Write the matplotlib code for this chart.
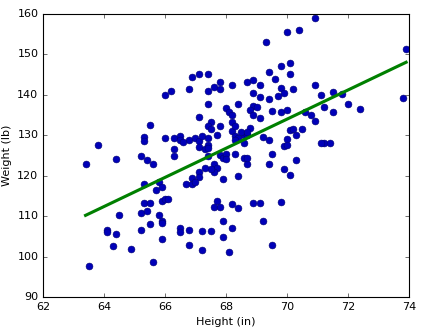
import numpy as np
import matplotlib
matplotlib.use("Agg")
import matplotlib.pyplot as plt

# =====================
# data
# =====================
height = [
    70.9, 70.0, 70.4, 69.3, 73.9, 69.8, 70.1, 69.4, 70.1, 69.6,
    66.9, 67.1, 67.4, 67.8, 66.0, 66.2, 66.8, 67.4, 67.6, 67.8,
    68.2, 68.7, 68.9, 69.1, 69.8, 69.9, 70.2, 70.9, 71.1, 71.5,
    71.8, 68.9, 69.1, 69.4, 69.7, 73.8, 72.0,
    67.4, 68.4, 68.0, 68.1, 68.2, 68.9, 69.0, 68.8, 68.9, 69.1,
    69.5, 69.8, 70.0, 70.6, 70.8, 70.9, 71.2, 71.5, 72.4, 65.5,
    67.1, 67.5, 67.4, 67.5, 67.7, 67.8, 68.2, 68.2, 68.3, 68.6,
    68.7, 68.5, 68.8, 70.0, 70.3, 70.1, 70.2, 70.5, 69.9, 71.2,
    65.3, 65.3, 66.0, 63.8, 66.3, 66.5, 66.5, 66.8, 67.0, 67.1,
    66.6, 67.2, 67.4, 67.1, 67.4, 68.3, 68.4, 68.7, 68.3, 68.6,
    69.2, 69.4, 70.0, 71.1, 71.4, 66.3, 66.3, 65.2, 65.4, 65.6,
    64.4, 63.4, 67.4, 67.8, 67.9, 68.0, 68.0, 68.3, 68.6, 68.7,
    68.7, 69.5, 70.3, 67.3, 67.4,
    69.4, 69.9, 70.1, 67.6, 67.7, 67.6, 67.9, 68.4, 67.5, 67.3,
    67.1, 67.1, 66.9, 66.7, 66.9, 67.0, 65.3, 65.8, 65.9, 65.7,
    65.3, 65.5, 65.9, 66.0, 66.1, 67.7, 67.6, 67.8, 68.2, 68.4,
    68.9, 69.1, 69.8,
    64.5, 65.2, 65.4, 65.8, 65.5, 65.9, 65.9, 67.9, 69.2, 64.4,
    66.5, 66.5, 66.8, 67.2, 67.5, 68.2, 64.1, 64.1, 65.2, 65.9,
    67.9, 64.3, 64.9, 66.8, 67.2, 68.1, 69.5, 63.5, 65.6,
]
weight = [
    159.0, 155.5, 156.0, 153.0, 151.3, 147.2, 147.9, 145.7, 145.2, 144.0,
    144.3, 145.1, 145.1, 143.2, 140.0, 141.0, 141.5, 141.0, 142.0, 141.5,
    142.5, 143.2, 143.7, 142.5, 141.7, 140.5, 141.5, 142.5, 140.0, 140.7,
    140.2, 140.5, 139.5, 139.0, 139.7, 139.2, 137.8,
    137.8, 137.8, 136.8, 135.8, 135.1, 137.3, 137.1, 136.3, 134.9, 134.4,
    136.0, 135.8, 136.3, 135.8, 135.1, 133.6, 137.0, 135.8, 136.5, 132.5,
    134.5, 133.4, 132.2, 131.5, 130.0, 132.2, 131.0, 133.4, 132.2, 130.0,
    130.0, 130.7, 131.9, 129.2, 130.0, 131.2, 131.5, 131.6, 127.4, 128.0,
    129.7, 128.7, 129.4, 127.7, 129.4, 129.9, 128.9, 128.9, 129.4, 128.5,
    128.3, 129.9, 129.4, 127.2, 127.5, 129.9, 129.4, 130.7, 128.9, 128.0,
    129.7, 128.9, 127.7, 128.2, 128.0, 126.6, 124.9, 124.9, 124.0, 123.0,
    124.2, 122.8, 124.8, 125.1, 124.4, 125.3, 124.1, 125.5, 124.3, 123.0,
    124.3, 125.5, 124.0, 126.6, 126.8,
    122.8, 121.6, 120.3, 123.0, 122.0, 121.0, 119.2, 119.9, 121.6, 122.0,
    121.0, 119.7, 119.5, 118.0, 118.0, 118.5, 117.9, 118.4, 117.2, 116.5,
    113.2, 113.2, 113.7, 114.2, 114.2, 113.7, 112.2, 112.4, 113.0, 112.0,
    113.2, 113.2, 113.4,
    110.2, 110.7, 111.2, 110.4, 108.2, 108.9, 108.4, 108.9, 108.7, 105.5,
    107.2, 106.0, 106.7, 106.4, 106.4, 107.2, 106.7, 106.0, 106.5, 104.3,
    104.8, 102.6, 101.9, 102.9, 101.6, 101.2, 102.9, 97.7, 98.7,
]

# =====================
# 拟合
# =====================
h = np.array(height)
w = np.array(weight)
slope, intercept = np.polyfit(h, w, 1)
hx = np.array([h.min(), h.max()])

# =====================
# plot
# =====================
plt.style.use("classic")
plt.rcParams["font.size"] = 10

fig = plt.figure(figsize=(5.3, 4.15), dpi=80, facecolor="white")
ax = fig.add_axes([0.101, 0.105, 0.864, 0.853])

ax.scatter(h, w, s=38, facecolor="#0000b8", edgecolor="#000070", linewidth=0.5, zorder=2)
ax.plot(hx, slope * hx + intercept, color="green", linewidth=2.8, zorder=3)

ax.set_xlim(62, 74)
ax.set_ylim(90, 160)
ax.set_xticks(np.arange(62, 75, 2))
ax.set_yticks(np.arange(90, 161, 10))
ax.set_xlabel("Height (in)")
ax.set_ylabel("Weight (lb)")

fig.savefig("out.png", dpi=80, facecolor="white")
